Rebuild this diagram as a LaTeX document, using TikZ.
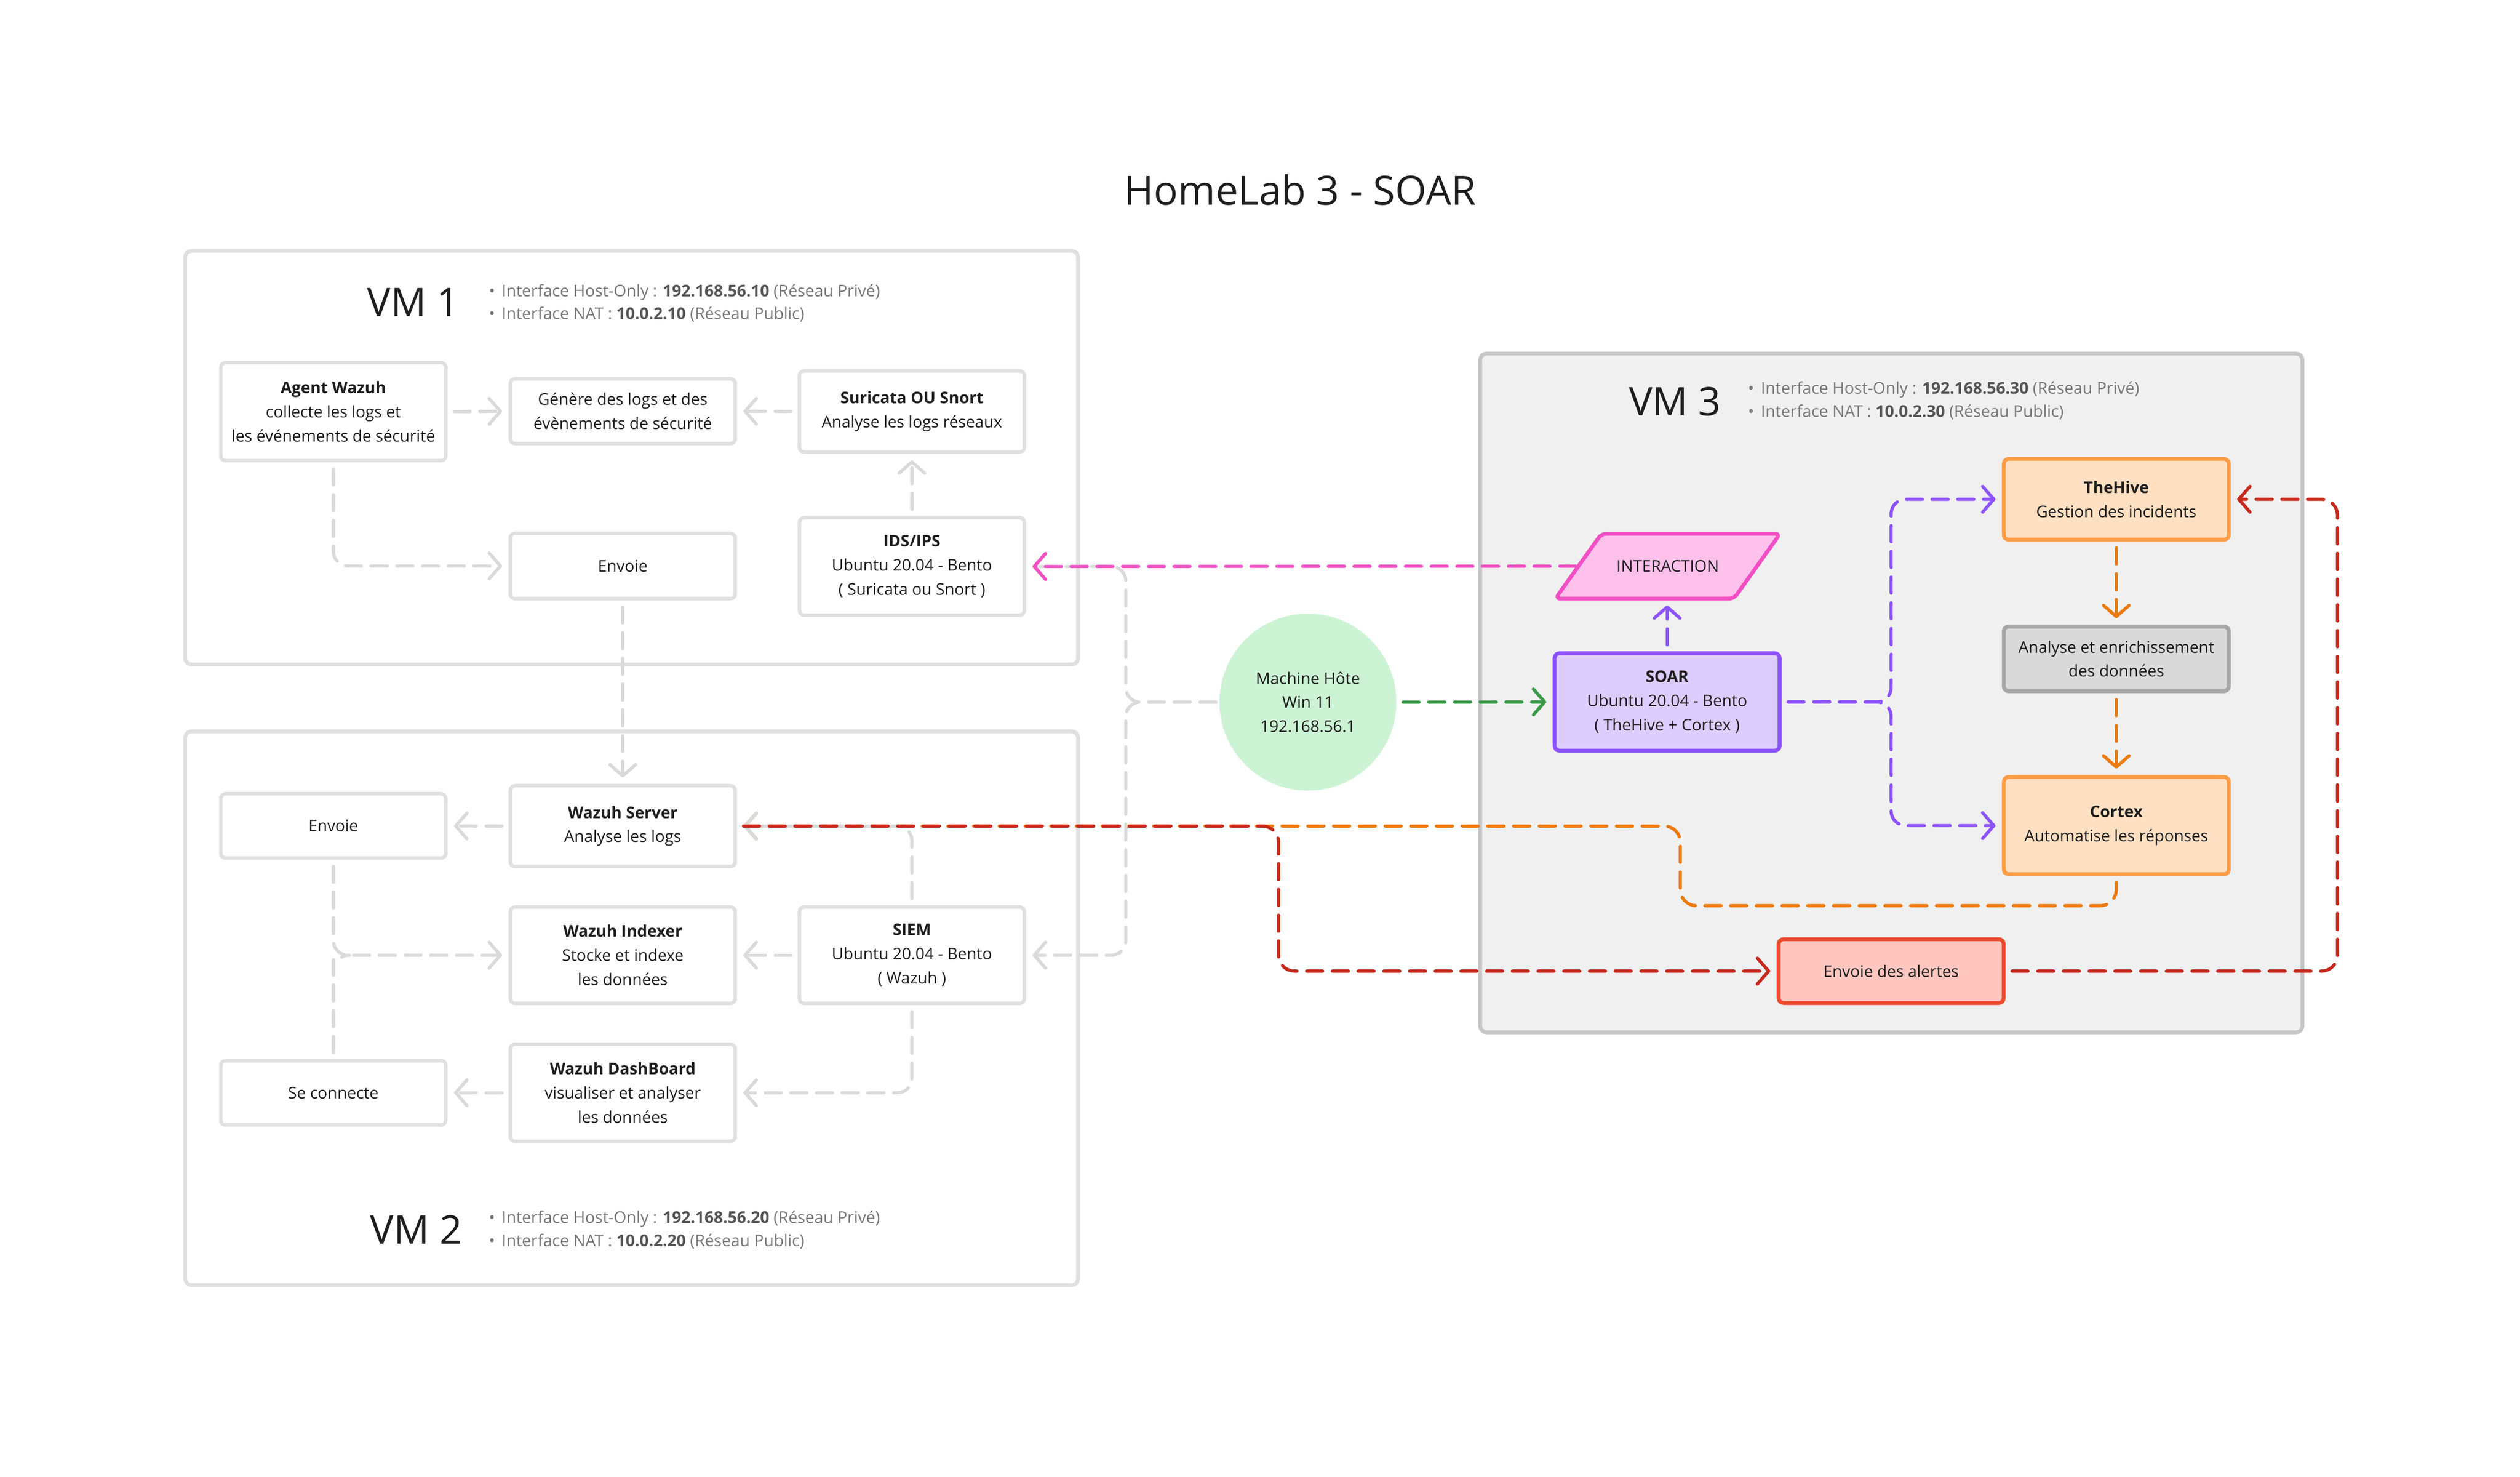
\documentclass[tikz,border=0pt]{standalone}
\usepackage{fontspec}
\setmainfont{Open Sans}
\usetikzlibrary{arrows.meta,shapes.geometric}
\definecolor{txt}{HTML}{1E1E1E}
\definecolor{infogray}{HTML}{777777}
\definecolor{infodark}{HTML}{555555}
\definecolor{framegray}{HTML}{E0E0E0}
\definecolor{boxgray}{HTML}{E0E0E0}
\definecolor{linegray}{HTML}{DADADA}
\definecolor{vmthreefill}{HTML}{F0F0F0}
\definecolor{vmthreedraw}{HTML}{C6C6C6}
\definecolor{pinkdraw}{HTML}{F24FC4}
\definecolor{pinkfill}{HTML}{FDC1EC}
\definecolor{purpledraw}{HTML}{8C52FF}
\definecolor{purplefill}{HTML}{DDCCFE}
\definecolor{orangedraw}{HTML}{FF9D48}
\definecolor{orangefill}{HTML}{FFE0C2}
\definecolor{orangeline}{HTML}{EB7A10}
\definecolor{redline}{HTML}{C62A1E}
\definecolor{reddraw}{HTML}{EE4A2C}
\definecolor{redfill}{HTML}{FFC7C0}
\definecolor{greenline}{HTML}{3A9A48}
\definecolor{greenfill}{HTML}{CCF3D4}
\definecolor{anadraw}{HTML}{A6A6A6}
\definecolor{anafill}{HTML}{D9D9D9}
\newcommand{\infobullet}{\makebox[8pt][l]{\textbullet}}
\begin{document}
\begin{tikzpicture}[x=1pt,y=-1pt,
  frame/.style={draw=framegray, line width=2.4pt, rounded corners=4pt, inner sep=0pt},
  box/.style={draw=boxgray, line width=2.2pt, rounded corners=3pt, fill=white,
    minimum width=140pt, align=center, inner sep=0pt, text=txt,
    font=\fontsize{10}{15}\selectfont},
  vmlabel/.style={font=\fontsize{24.5}{28}\selectfont, text=txt, inner sep=0pt},
  info/.style={anchor=west, align=left, inner sep=0pt, text=infogray,
    font=\fontsize{10.1}{14.3}\selectfont},
  line/.style={line width=2pt, dash pattern=on 10pt off 6pt, line cap=round,
    line join=round, rounded corners=9pt, shorten <=4pt},
  conn/.style={line, -{Straight Barb[length=7pt,width=16pt,round]}, shorten >=4pt},
  grayconn/.style={conn, draw=linegray},
]
\useasboundingbox (0,0) rectangle (1568,918.8);

% title
\node[font=\fontsize{25}{30}\selectfont, text=txt, inner sep=0pt] (title) at (809,118) {HomeLab 3 - SOAR};

% frames
\node[frame, minimum width=555.6pt, minimum height=257.3pt] (vm1) at (393,284.7) {};
\node[frame, minimum width=555.6pt, minimum height=344.5pt] (vm2) at (393,627.2) {};
\node[frame, draw=vmthreedraw, fill=vmthreefill, minimum width=511.6pt, minimum height=422.2pt] (vm3) at (1176.8,431.1) {};

% VM labels and info
\node[vmlabel] (vm1lbl) at (257.1,188) {VM 1};
\node[info] (vm1info) at (304,188.5) {\infobullet Interface Host-Only : \textbf{\color{infodark}192.168.56.10} (Réseau Privé)\\\infobullet Interface NAT : \textbf{\color{infodark}10.0.2.10} (Réseau Public)};
\node[vmlabel] (vm2lbl) at (259,765) {VM 2};
\node[info] (vm2info) at (304,765) {\infobullet Interface Host-Only : \textbf{\color{infodark}192.168.56.20} (Réseau Privé)\\\infobullet Interface NAT : \textbf{\color{infodark}10.0.2.20} (Réseau Public)};
\node[vmlabel] (vm3lbl) at (1042.2,249.8) {VM 3};
\node[info] (vm3info) at (1087.5,249.2) {\infobullet Interface Host-Only : \textbf{\color{infodark}192.168.56.30} (Réseau Privé)\\\infobullet Interface NAT : \textbf{\color{infodark}10.0.2.30} (Réseau Public)};

% VM1 nodes
\node[box, minimum height=61pt] (agent) at (207.4,256.1) {\textbf{Agent Wazuh}\\collecte les logs et\\les événements de sécurité};
\node[box, minimum height=40.4pt] (genere) at (387.5,255.8) {Génère des logs et des\\évènements de sécurité};
\node[box, minimum height=50.5pt] (suricata) at (567.4,256) {\textbf{Suricata OU Snort}\\Analyse les logs réseaux};
\node[box, minimum height=40.7pt] (envoiea) at (387.5,352.1) {Envoie};
\node[box, minimum height=60.7pt] (ids) at (567.4,352.4) {\textbf{IDS/IPS}\\Ubuntu 20.04 - Bento\\( Suricata ou Snort )};

% VM2 nodes
\node[box, minimum height=40pt] (envoieb) at (207.4,513.8) {Envoie};
\node[box, minimum height=50.3pt] (wserver) at (387.5,513.9) {\textbf{Wazuh Server}\\Analyse les logs};
\node[box, minimum height=60pt] (indexer) at (387.5,594.2) {\textbf{Wazuh Indexer}\\Stocke et indexe\\les données};
\node[box, minimum height=60pt] (siem) at (567.4,594.2) {\textbf{SIEM}\\Ubuntu 20.04 - Bento\\( Wazuh )};
\node[box, minimum height=40pt] (seconn) at (207.4,679.8) {Se connecte};
\node[box, minimum height=60.5pt] (dash) at (387.5,679.8) {\textbf{Wazuh DashBoard}\\visualiser et analyser\\les données};

% host
\node[circle, fill=greenfill, minimum size=110pt, inner sep=0pt, align=center, text=txt,
  font=\fontsize{10}{15}\selectfont] (host) at (813.8,436.8) {Machine Hôte\\Win 11\\192.168.56.1};

% VM3 nodes
\draw[draw=pinkdraw, fill=pinkfill, line width=2.4pt, rounded corners=3pt, line join=round]
  (996.5,332) -- (1107.6,332) -- (1078.9,372.4) -- (967.8,372.4) -- cycle;
\node[minimum width=112pt, minimum height=40.4pt, inner sep=0pt, text=txt,
  font=\fontsize{10}{15}\selectfont] (inter) at (1037.7,352.2) {INTERACTION};
\node[box, draw=purpledraw, fill=purplefill, line width=2.4pt, minimum height=60.6pt] (soar) at (1037.3,436.7) {\textbf{SOAR}\\Ubuntu 20.04 - Bento\\( TheHive + Cortex )};
\node[box, draw=orangedraw, fill=orangefill, line width=2.4pt, minimum height=50.2pt] (thehive) at (1316.8,310.6) {\textbf{TheHive}\\Gestion des incidents};
\node[box, draw=anadraw, fill=anafill, line width=2.4pt, minimum height=40.2pt] (analyse) at (1316.8,409.9) {Analyse et enrichissement\\des données};
\node[box, draw=orangedraw, fill=orangefill, line width=2.4pt, minimum height=60.5pt] (cortex) at (1316.8,513.6) {\textbf{Cortex}\\Automatise les réponses};
\node[box, draw=reddraw, fill=redfill, line width=2.4pt, minimum height=39.7pt] (alertes) at (1176.7,604.1) {Envoie des alertes};

% VM1 connectors
\draw[grayconn] (agent.east) -- (genere.west);
\draw[grayconn] (suricata.west) -- (genere.east);
\draw[grayconn] (ids.north) -- (suricata.south);
\draw[grayconn] (agent.south) |- (envoiea.west);
\draw[grayconn] (envoiea.south) -- (wserver.north);

% orange Cortex -> Wazuh Server (under the gray)
\draw[conn, draw=orangeline, rounded corners=10pt] (cortex.south) |- (1045.5,563.4) |- (wserver.east);

% VM2 connectors
\draw[grayconn] (wserver.west) -- (envoieb.east);
\draw[grayconn] (siem.north) |- (wserver.east);
\draw[grayconn] (siem.west) -- (indexer.east);
\draw[grayconn] (siem.south) |- (dash.east);
\draw[grayconn] (dash.west) -- (seconn.east);
\draw[grayconn] (envoieb.south) |- (indexer.west);
\draw[line, draw=linegray] (seconn.north) -- (207.4,606) to[out=90,in=180] (217.4,594.2);

% host connectors
\draw[grayconn, shorten <=2pt] (host.west) -- (700.5,436.8) |- (ids.east);
\draw[grayconn, shorten <=2pt] (host.west) -- (700.5,436.8) |- (siem.east);
\draw[conn, draw=greenline] (host.east) -- (soar.west);

% pink
\draw[conn, draw=pinkdraw, shorten <=1pt] (inter.west) -- (ids.east);

% purple
\draw[conn, draw=purpledraw] (soar.north) -- (soar.north |- inter.south);
\draw[conn, draw=purpledraw] (soar.east) -- (1176.7,436.7) |- (thehive.west);
\draw[conn, draw=purpledraw] (soar.east) -- (1176.7,436.7) |- (cortex.west);

% orange in VM3
\draw[conn, draw=orangeline] (thehive.south) -- (analyse.north);
\draw[conn, draw=orangeline] (analyse.south) -- (cortex.north);

% red
\draw[conn, draw=redline, rounded corners=10pt] (wserver.east) -| (795.5,604.1) -- (alertes.west);
\draw[conn, draw=redline, rounded corners=10pt] (alertes.east) -| (1454.4,310.6) -- (thehive.east);
\end{tikzpicture}
\end{document}
